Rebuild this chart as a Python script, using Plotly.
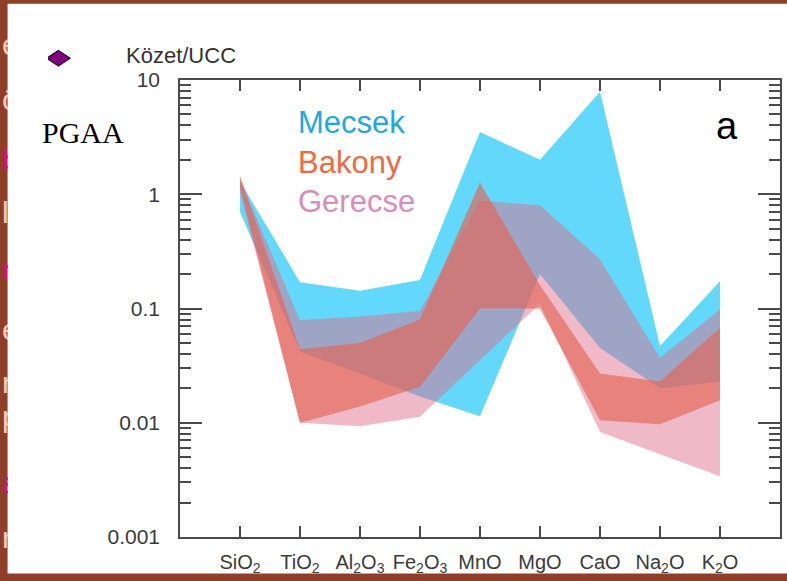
import plotly.graph_objects as go

# ---------------- data (Kőzet / UCC normalised ranges) ----------------
oxides = ["SiO<sub>2</sub>", "TiO<sub>2</sub>", "Al<sub>2</sub>O<sub>3</sub>",
          "Fe<sub>2</sub>O<sub>3</sub>", "MnO", "MgO", "CaO",
          "Na<sub>2</sub>O", "K<sub>2</sub>O"]

mecsek_max = [1.3, 0.17, 0.143, 0.178, 3.5, 2.0, 7.9, 0.047, 0.173]
mecsek_min = [0.70, 0.042, 0.027, 0.017, 0.0114, 0.2, 0.045, 0.02, 0.023]

gerecse_max = [1.35, 0.079, 0.085, 0.095, 0.88, 0.8, 0.27, 0.037, 0.098]
gerecse_min = [1.05, 0.010, 0.0093, 0.0113, 0.035, 0.11, 0.0083, 0.0053, 0.0034]

bakony_max = [1.45, 0.044, 0.05, 0.08, 1.26, 0.16, 0.027, 0.023, 0.068]
bakony_min = [1.15, 0.010, 0.0139, 0.0207, 0.1, 0.1, 0.0105, 0.0097, 0.0157]

y_tickvals = [0.001, 0.01, 0.1, 1, 10]
y_ticktext = ["0.001", "0.01", "0.1", "1", "10"]
y_minor_vals = [0.002, 0.003, 0.004, 0.005, 0.006, 0.007, 0.008, 0.009,
                0.02, 0.03, 0.04, 0.05, 0.06, 0.07, 0.08, 0.09,
                0.2, 0.3, 0.4, 0.5, 0.6, 0.7, 0.8, 0.9,
                2, 3, 4, 5, 6, 7, 8, 9]

series = [
    ("Mecsek", mecsek_max, mecsek_min, "rgb(98,216,250)"),
    ("Gerecse", gerecse_max, gerecse_min, "rgba(224,108,138,0.48)"),
    ("Bakony", bakony_max, bakony_min, "rgba(228,100,85,0.65)"),
]

# ---------------- figure ----------------
W, H = 787, 581
L, R, T, B = 180, 5, 80, 39
PW, PH = W - L - R, H - T - B


def pxx(p):
    return (p - L) / PW


def pxy(p):
    return (H - B - p) / PH


fig = go.Figure()
idx = list(range(len(oxides)))
for name, hi, lo, col in series:
    fig.add_trace(go.Scatter(
        x=idx + idx[::-1], y=list(hi) + list(lo)[::-1],
        fill="toself", fillcolor=col, mode="lines",
        line=dict(width=0, color=col), name=name,
        showlegend=False, hoverinfo="skip"))
# empty trace so the minor-tick overlay axis gets drawn
fig.add_trace(go.Scatter(x=[], y=[], yaxis="y2", showlegend=False, hoverinfo="skip"))

axis_col = "#4a4a4a"
tick_font = dict(family="Liberation Sans, Arial, sans-serif", size=20, color="#3a3a3a")

fig.update_layout(
    xaxis=dict(
        range=[-1, 9], tickvals=idx, ticktext=oxides,
        showline=True, linecolor=axis_col, linewidth=1.5, mirror="ticks",
        ticks="inside", ticklen=11, tickwidth=1.5, tickcolor=axis_col,
        showgrid=False, zeroline=False, tickfont=tick_font,
        ticklabelstandoff=6),
    yaxis=dict(
        type="log", range=[-3, 1], tickvals=y_tickvals, ticktext=y_ticktext,
        showline=True, linecolor=axis_col, linewidth=1.5, mirror="ticks",
        ticks="inside", ticklen=22, tickwidth=1.5, tickcolor=axis_col,
        showgrid=False, zeroline=False,
        tickfont=dict(family="Liberation Sans, Arial, sans-serif", size=21, color="#3a3a3a"),
        ticklabelstandoff=14),
    yaxis2=dict(
        type="log", range=[-3, 1], overlaying="y", side="left",
        tickmode="array", tickvals=y_minor_vals, showticklabels=False,
        showline=False, mirror="ticks",
        ticks="inside", ticklen=11, tickwidth=1.5, tickcolor=axis_col,
        showgrid=False, zeroline=False),
)

shapes = [
    # white slide panel behind the chart
    dict(type="rect", xref="paper", yref="paper", layer="below",
         x0=pxx(7), x1=pxx(W + 5), y0=pxy(579), y1=pxy(3),
         fillcolor="white", line=dict(width=0)),
    # purple diamond bullet
    dict(type="path", xref="paper", yref="paper",
         path=(f"M {pxx(46)},{pxy(58)} L {pxx(58)},{pxy(50)} "
               f"L {pxx(70)},{pxy(58)} L {pxx(58)},{pxy(66)} Z"),
         fillcolor="#800080", line=dict(color="black", width=1)),
]

annotations = []
# cut-off letters of the slide text behind the panel
side_letters = [("é", 44, "#f3cbc3"), ("ö", 100, "#f3cbc3"), ("b", 160, "#d4147c"),
                ("le", 214, "#f3cbc3"), ("r", 272, "#d4147c"), ("e", 332, "#f3cbc3"),
                ("re", 386, "#f3cbc3"), ("p", 420, "#f3cbc3"), ("a", 487, "#d4147c"),
                ("re", 543, "#f3cbc3")]
for txt, yy, c in side_letters:
    annotations.append(dict(
        text=txt, xref="paper", yref="paper", x=pxx(-1), y=pxy(yy),
        xanchor="left", yanchor="middle", showarrow=False,
        font=dict(family="Liberation Sans, Arial, sans-serif", size=30, color=c)))
# white strip covering the right part of those letters
annotations.append(dict(
    text=" ", xref="paper", yref="paper", x=pxx(7), y=pxy(3),
    xanchor="left", yanchor="top", showarrow=False, width=40, height=562,
    bgcolor="white", borderpad=0, borderwidth=0))

annotations += [
    dict(text="Közet/UCC", xref="paper", yref="paper", x=pxx(124), y=pxy(55),
         xanchor="left", yanchor="middle", showarrow=False,
         font=dict(family="Liberation Sans, Arial, sans-serif", size=22, color="#333333")),
    dict(text="PGAA", xref="paper", yref="paper", x=pxx(83), y=pxy(133),
         xanchor="center", yanchor="middle", showarrow=False,
         font=dict(family="Liberation Serif, Times New Roman, serif", size=30, color="black")),
    dict(text="a", xref="paper", yref="paper", x=pxx(729), y=pxy(127),
         xanchor="center", yanchor="middle", showarrow=False,
         font=dict(family="Liberation Sans, Arial, sans-serif", size=38, color="black")),
]
legend_cols = {"Mecsek": "#1fa8e0", "Bakony": "#ef6a42", "Gerecse": "#d98db8"}
for name, yy in [("Mecsek", 123), ("Bakony", 163), ("Gerecse", 203)]:
    annotations.append(dict(
        text=name, xref="paper", yref="paper", x=pxx(296), y=pxy(yy),
        xanchor="left", yanchor="middle", showarrow=False,
        font=dict(family="Liberation Sans, Arial, sans-serif", size=31,
                  color=legend_cols[name])))

fig.update_layout(
    width=W, height=H, margin=dict(l=L, r=R, t=T, b=B, pad=0),
    paper_bgcolor="#8f3e28", plot_bgcolor="rgba(0,0,0,0)",
    shapes=shapes, annotations=annotations, showlegend=False)

fig.write_html(
    "out.html",
    config={"displayModeBar": False},
    post_script="document.body.style.margin='0';document.body.style.overflow='hidden';")
